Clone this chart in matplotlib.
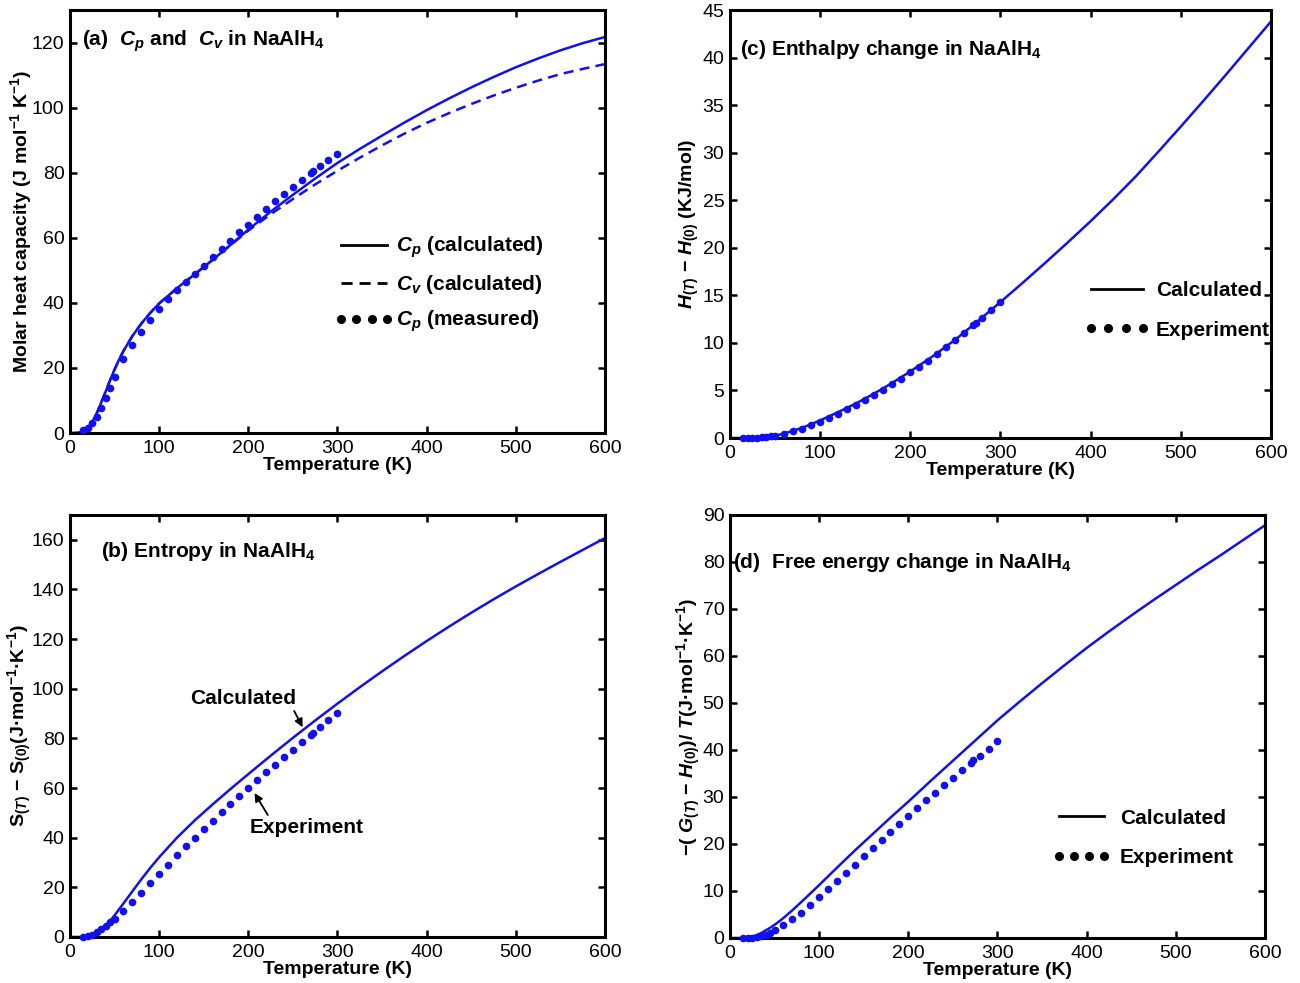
import matplotlib
matplotlib.use("Agg")
import matplotlib.pyplot as plt
from matplotlib.lines import Line2D

# Temperature grid of the calculated curves (K)
T_calc = [0, 5, 10, 15, 20, 25, 30, 35, 40, 45, 50, 55, 60, 70, 80, 90, 100,
          120, 140, 160, 180, 200, 225, 250, 275, 300, 325, 350, 375, 400,
          425, 450, 475, 500, 525, 550, 575, 600]

# Calculated quantities
cp_calc = [0, 0, 0.1, 0.5, 1.5, 3.4, 6.0, 9.3, 12.7, 16.2, 19.5, 22.5, 25.2, 29.8, 33.6, 36.9, 39.8,
           44.5, 48.8, 53.2, 57.8, 62.5, 68.0, 73.2, 78.2, 83.0, 87.3, 91.4, 95.4, 99.2,
           102.8, 106.2, 109.4, 112.4, 115.1, 117.6, 119.8, 121.7]
cv_calc = [0, 0, 0.1, 0.5, 1.5, 3.4, 6.0, 9.3, 12.7, 16.2, 19.5, 22.5, 25.2, 29.8, 33.6, 36.9, 39.8,
           44.5, 48.8, 53.2, 57.7, 62.2, 67.2, 71.9, 76.4, 80.6, 84.6, 88.4, 92.0, 95.3,
           98.3, 101.1, 103.7, 106.1, 108.3, 110.3, 111.9, 113.4]
h_calc = [0, 0, 0, 0, 0.01, 0.02, 0.04, 0.07, 0.11, 0.18, 0.26, 0.36, 0.48, 0.76, 1.08, 1.45, 1.86,
          2.72, 3.65, 4.68, 5.8, 7.0, 8.6, 10.35, 12.3, 14.3, 16.35, 18.45, 20.6, 22.8,
          25.1, 27.5, 30.1, 32.75, 35.45, 38.2, 41.0, 43.8]
s_calc = [0, 0, 0, 0.05, 0.3, 0.9, 1.8, 3.0, 4.5, 6.5, 8.7, 11.1, 13.5, 18.4, 23.2, 27.8, 32.1,
          40.0, 47.0, 53.4, 59.6, 65.6, 73.0, 80.2, 87.2, 94.0, 100.6, 107.0, 113.2, 119.2,
          125.0, 130.6, 136.0, 141.2, 146.2, 151.1, 155.9, 160.7]
g_calc = [0, 0, 0, 0, 0.05, 0.3, 0.6, 1.05, 1.6, 2.15, 2.8, 3.5, 4.25, 5.9, 7.65, 9.45, 11.25,
          14.95, 18.6, 22.1, 25.6, 29.0, 33.4, 37.7, 42.0, 46.3, 50.3, 54.2, 58.0, 61.7,
          65.2, 68.6, 71.9, 75.1, 78.3, 81.4, 84.6, 87.8]

# Measured temperatures (K)
T_exp = [15, 20, 25, 30, 35, 40, 45, 50, 60, 70, 80, 90, 100, 110, 120, 130, 140, 150,
         160, 170, 180, 190, 200, 210, 220, 230, 240, 250, 260, 270, 273, 280, 290, 300]

cp_exp = [0.8, 1.5, 3.0, 5.0, 7.6, 10.7, 13.9, 17.2, 22.6, 27.2, 31.1, 34.7, 38.0, 41.2, 43.8, 46.4, 48.8, 51.4,
          54.0, 56.7, 59.1, 61.7, 64.0, 66.4, 68.9, 71.2, 73.5, 75.6, 77.9, 80.0, 80.4, 82.0, 84.0, 85.8]
h_exp = [0, 0.01, 0.02, 0.04, 0.07, 0.11, 0.17, 0.25, 0.45, 0.7, 0.99, 1.32, 1.7, 2.1, 2.55, 3.0, 3.5, 4.0,
         4.55, 5.1, 5.65, 6.25, 6.9, 7.5, 8.15, 8.85, 9.55, 10.3, 11.05, 11.85, 12.1, 12.65, 13.5, 14.35]
s_exp = [0.05, 0.2, 0.9, 2.0, 3.2, 4.6, 5.9, 7.2, 10.4, 14.0, 17.8, 21.7, 25.4, 29.2, 32.9, 36.5, 40.0, 43.4,
         46.9, 50.2, 53.5, 56.8, 60.1, 63.2, 66.3, 69.4, 72.4, 75.5, 78.5, 81.4, 82.0, 84.4, 87.3, 90.2]
g_exp = [0, 0.02, 0.05, 0.15, 0.35, 0.7, 1.1, 1.6, 2.7, 4.0, 5.4, 7.0, 8.7, 10.4, 12.1, 13.8, 15.6, 17.4,
         19.2, 20.9, 22.5, 24.3, 26.0, 27.7, 29.3, 30.9, 32.6, 34.1, 35.7, 37.3, 37.8, 38.8, 40.3, 42.0]

x_ticks = [0, 100, 200, 300, 400, 500, 600]

plt.rcParams.update({
    'font.family': 'Liberation Sans',
    'font.size': 14,
    'mathtext.fontset': 'custom',
    'mathtext.rm': 'Liberation Sans:bold',
    'mathtext.it': 'Liberation Sans:italic:bold',
    'mathtext.bf': 'Liberation Sans:bold',
    'axes.linewidth': 2.2,
    'xtick.direction': 'in',
    'ytick.direction': 'in',
    'xtick.top': True,
    'ytick.right': True,
    'xtick.major.size': 5,
    'ytick.major.size': 5,
    'xtick.major.width': 1.8,
    'ytick.major.width': 1.8,
    'xtick.major.pad': 5,
    'ytick.major.pad': 4,
})

blue = '#1010f0'

fig = plt.figure(figsize=(13, 9.83), dpi=100)
ax_a = fig.add_axes([0.0538, 0.5595, 0.4115, 0.4303])
ax_c = fig.add_axes([0.5615, 0.5544, 0.4162, 0.4354])
ax_b = fig.add_axes([0.0538, 0.0468, 0.4115, 0.4293])
ax_d = fig.add_axes([0.5615, 0.0458, 0.4115, 0.4303])


def setup(ax, ymax, ystep, ylabel, pad):
    ax.set_xlim(0, 600)
    ax.set_ylim(0, ymax)
    ax.set_xticks(x_ticks)
    ax.set_yticks(range(0, ymax + 1, ystep))
    ax.set_xlabel('Temperature (K)', fontsize=14, fontweight='bold', labelpad=0)
    ax.set_ylabel(ylabel, fontsize=14, fontweight='bold', labelpad=pad)


def exp_dots(ax, t, v):
    ax.plot(t, v, 'o', color=blue, ms=5.5, mec='none', clip_on=False, zorder=3)


# (a) heat capacities
ax_a.plot(T_calc, cp_calc, color=blue, lw=1.8)
ax_a.plot(T_calc, cv_calc, color=blue, lw=1.8, ls=(0, (4, 2.5)))
exp_dots(ax_a, T_exp, cp_exp)
setup(ax_a, 130, 20, r'Molar heat capacity (J mol$^{-1}$ K$^{-1}$)', -1.5)
ax_a.set_yticks(range(0, 121, 20))
ax_a.text(0.022, 0.915, r'(a)  $C_p$ and  $C_v$ in NaAlH$_4$', transform=ax_a.transAxes,
          fontsize=15, fontweight='bold', va='baseline')
handles_a = [Line2D([], [], color='black', lw=2),
             Line2D([], [], color='black', lw=2, ls=(0, (4, 2.5))),
             Line2D([], [], color='black', ls='none', marker='o', ms=5.5)]
ax_a.legend(handles_a, [r'$C_p$ (calculated)', r'$C_v$ (calculated)', r'$C_p$ (measured)'],
            loc='upper left', bbox_to_anchor=(0.495, 0.469), frameon=False,
            prop={'weight': 'bold', 'size': 15}, handlelength=2.8, handletextpad=0.15,
            numpoints=4, labelspacing=0.62, borderpad=0, borderaxespad=0)

# (c) enthalpy
ax_c.plot(T_calc, h_calc, color=blue, lw=1.8)
exp_dots(ax_c, T_exp, h_exp)
setup(ax_c, 45, 5, r'$H_{\mathit{(T)}}$ $-$ $H_{\mathit{(0)}}$ (KJ/mol)', 1)
ax_c.text(0.0185, 0.895, r'(c) Enthalpy change in NaAlH$_4$', transform=ax_c.transAxes,
          fontsize=15, fontweight='bold', va='baseline')
handles_cd = [Line2D([], [], color='black', lw=2),
              Line2D([], [], color='black', ls='none', marker='o', ms=5.5)]
ax_c.legend(handles_cd, ['Calculated', 'Experiment'], loc='upper left',
            bbox_to_anchor=(0.656, 0.367), frameon=False,
            prop={'weight': 'bold', 'size': 15}, handlelength=3.1, handletextpad=0.3,
            numpoints=4, labelspacing=1.0, borderpad=0, borderaxespad=0)

# (b) entropy
ax_b.plot(T_calc, s_calc, color=blue, lw=1.8)
exp_dots(ax_b, T_exp, s_exp)
setup(ax_b, 170, 20, r'$\mathbf{S}_{\mathit{(T)}}$ $-$ $\mathbf{S}_{\mathit{(0)}}$(J·mol$^{-1}$·K$^{-1}$)', -1.5)
ax_b.set_yticks(range(0, 161, 20))
ax_b.text(0.058, 0.900, r'(b) Entropy in NaAlH$_4$', transform=ax_b.transAxes,
          fontsize=15, fontweight='bold', va='baseline')
arrow = dict(arrowstyle='-|>', color='black', lw=1.3, shrinkA=0, shrinkB=0, mutation_scale=12)
ax_b.annotate('Calculated', xy=(261, 84.5), xytext=(194, 96), fontsize=15, fontweight='bold',
              ha='center', va='center', arrowprops=dict(arrow, relpos=(0.97, 0.0)))
ax_b.annotate('Experiment', xy=(207, 58), xytext=(266, 44.2), fontsize=15, fontweight='bold',
              ha='center', va='center', arrowprops=dict(arrow, relpos=(0.17, 1.0)))

# (d) free energy function
ax_d.plot(T_calc, g_calc, color=blue, lw=1.8)
exp_dots(ax_d, T_exp, g_exp)
setup(ax_d, 90, 10,
      r'$-$( $G_{\mathit{(T)}}$ $-$ $H_{\mathit{(0)}}$)/ $T$(J·mol$^{-1}$·K$^{-1}$)', 0)
ax_d.text(0.0056, 0.875, r'(d)  Free energy change in NaAlH$_4$', transform=ax_d.transAxes,
          fontsize=15, fontweight='bold', va='baseline')
ax_d.legend(handles_cd, ['Calculated', 'Experiment'], loc='upper left',
            bbox_to_anchor=(0.604, 0.306), frameon=False,
            prop={'weight': 'bold', 'size': 15}, handlelength=2.75, handletextpad=0.45,
            numpoints=4, labelspacing=1.0, borderpad=0, borderaxespad=0)

fig.savefig('out.png', dpi=100)
